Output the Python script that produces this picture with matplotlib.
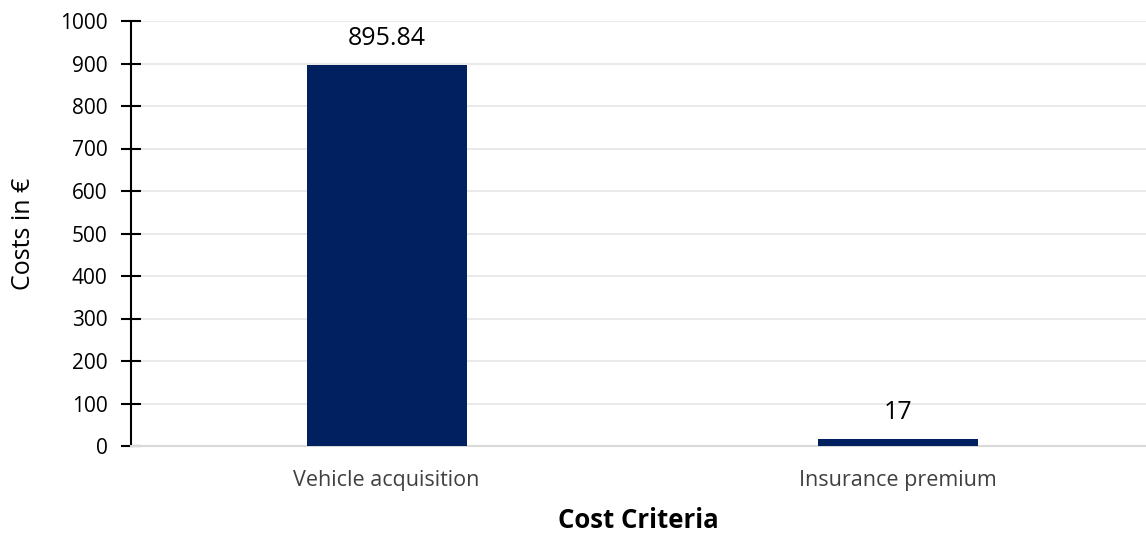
import matplotlib.pyplot as plt

categories = ['Vehicle acquisition', 'Insurance premium']
costs = [895.84, 17]
value_labels = ['895.84', '17']

plt.rcParams['font.family'] = ['Open Sans', 'DejaVu Sans']

fig = plt.figure(figsize=(11.46, 5.36), dpi=100)
ax = fig.add_axes([131 / 1146, 90 / 536, 1015 / 1146, 425 / 536])

x = range(len(categories))
bars = ax.bar(x, costs, width=0.313, color='#002060', zorder=3)
for b, lab in zip(bars, value_labels):
    ax.annotate(lab, (b.get_x() + b.get_width() / 2, b.get_height()),
                xytext=(0, 10), textcoords='offset points',
                ha='center', va='bottom', fontsize=18, color='black')

ax.set_xlim(-0.5, 1.485)
ax.set_ylim(0, 1000)
ax.set_yticks(range(0, 1001, 100))
ax.set_xticks(list(x))
ax.set_xticklabels(categories, fontsize=15.5, color='#404040')
ax.tick_params(axis='x', length=0, pad=17)
ax.tick_params(axis='y', direction='inout', length=14, width=1.5, labelsize=15, pad=10)

ax.grid(axis='y', color='#e6e6e6', linewidth=1.2, zorder=0)
for s in ['top', 'right']:
    ax.spines[s].set_visible(False)
ax.spines['left'].set_linewidth(1.5)
ax.spines['left'].set_color('black')
ax.spines['bottom'].set_color('#d9d9d9')
ax.spines['bottom'].set_linewidth(1.5)

ax.set_ylabel('Costs in €', fontsize=18, labelpad=17)
ax.set_xlabel('Cost Criteria', fontsize=18.5, fontweight='bold', labelpad=12)

fig.savefig('out.png', dpi=100)
